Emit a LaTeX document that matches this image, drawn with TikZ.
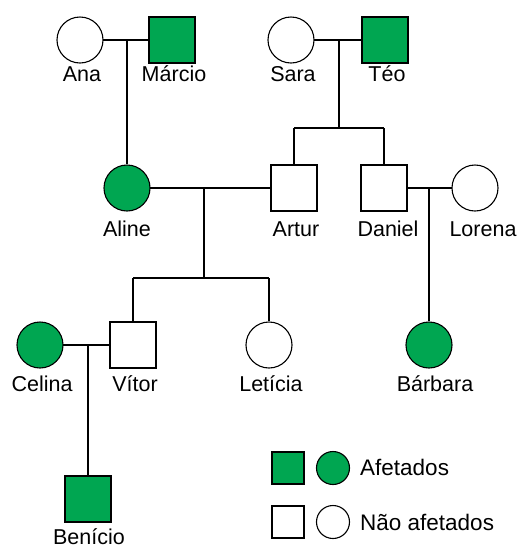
\documentclass[tikz,border=0pt]{standalone}
\usepackage{fontspec}
\setmainfont{Liberation Sans}
\definecolor{aff}{HTML}{00A651}
\begin{document}
\begin{tikzpicture}[x=1pt,y=-1pt,
  person/.style={draw=black,line width=1.1pt,inner sep=0pt,fill=white},
  fem/.style={person,circle,minimum size=46pt},
  mal/.style={person,rectangle,minimum size=46pt},
  lfem/.style={person,circle,minimum size=33pt},
  lmal/.style={person,rectangle,minimum size=32pt},
  affected/.style={fill=aff},
  lbl/.style={anchor=base,inner sep=0pt,font=\fontsize{21.5}{25}\selectfont},
  llbl/.style={anchor=base west,inner sep=0pt,font=\fontsize{22.5}{26}\selectfont},
  link/.style={line width=1.1pt}]
\useasboundingbox (0,0) rectangle (519,550);

% junction coordinates
\coordinate (j1) at (127,40);
\coordinate (j2) at (339,40);
\coordinate (j2b) at (339,128);
\coordinate (j2l) at (294,128);
\coordinate (j2r) at (384,128);
\coordinate (j3) at (204,188);
\coordinate (j3b) at (204,278);
\coordinate (j3l) at (133,278);
\coordinate (j3r) at (269,278);
\coordinate (j4) at (429,188);
\coordinate (j5) at (88,345);

% connectors (drawn first, shapes on top)
\draw[link] (80,40) -- (172,40);
\draw[link] (291,40) -- (385,40);
\draw[link] (127,188) -- (294,188);
\draw[link] (384,188) -- (475,188);
\draw[link] (40,345) -- (133,345);

% people
\node[fem] (ana) at (80,40) {};
\node[mal,affected] (marcio) at (172,40) {};
\node[fem] (sara) at (291,40) {};
\node[mal,affected] (teo) at (385,40) {};
\node[fem,affected] (aline) at (127,188) {};
\node[mal] (artur) at (294,188) {};
\node[mal] (daniel) at (384,188) {};
\node[fem] (lorena) at (475,188) {};
\node[fem,affected] (celina) at (40,345) {};
\node[mal] (vitor) at (133,345) {};
\node[fem] (leticia) at (269,345) {};
\node[fem,affected] (barbara) at (429,345) {};
\node[mal,affected] (benicio) at (88,499) {};

% descent lines
\draw[link] (j1) -- (aline.north);
\draw[link] (j2) -- (j2b);
\draw[link] (j2l) -- (j2r);
\draw[link] (j2l) -- (artur.north);
\draw[link] (j2r) -- (daniel.north);
\draw[link] (j3) -- (j3b);
\draw[link] (j3l) -- (j3r);
\draw[link] (j3l) -- (vitor.north);
\draw[link] (j3r) -- (leticia.north);
\draw[link] (j4) -- (barbara.north);
\draw[link] (j5) -- (benicio.north);

% labels
\node[lbl] (lana) at (82,81.5) {Ana};
\node[lbl] (lmarcio) at (174,81.5) {Márcio};
\node[lbl] (lsara) at (293,81.5) {Sara};
\node[lbl] (lteo) at (387,81.5) {Téo};
\node[lbl] (laline) at (127,236) {Aline};
\node[lbl] (lartur) at (296,236) {Artur};
\node[lbl] (ldaniel) at (388,236) {Daniel};
\node[lbl] (llorena) at (483,236) {Lorena};
\node[lbl] (lcelina) at (42,391) {Celina};
\node[lbl] (lvitor) at (135,391) {Vítor};
\node[lbl] (lleticia) at (271,391) {Letícia};
\node[lbl] (lbarbara) at (435,391) {Bárbara};
\node[lbl] (lbenicio) at (89,544.5) {Benício};

% legend
\node[lmal,affected] (legms) at (288,468) {};
\node[lfem,affected] (legfc) at (333,468) {};
\node[llbl] (legaff) at (360,475) {Afetados};
\node[lmal] (legus) at (288,522) {};
\node[lfem] (leguc) at (333,522) {};
\node[llbl] (legun) at (360,530) {Não afetados};
\end{tikzpicture}
\end{document}
